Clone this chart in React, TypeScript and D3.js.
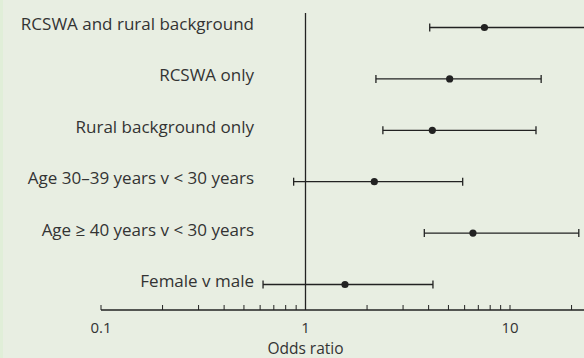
import React from "react";
import * as d3 from "d3";

const categories = [
  "RCSWA and rural background",
  "RCSWA only",
  "Rural background only",
  "Age 30\u201339 years v < 30 years",
  "Age \u2265 40 years v < 30 years",
  "Female v male",
];
const oddsRatios = [7.5, 5.07, 4.17, 2.17, 6.59, 1.56];
const lowerCI = [4.05, 2.21, 2.39, 0.875, 3.81, 0.62];
const upperCI = [40, 14.2, 13.4, 5.87, 21.7, 4.2];
const tickLabels = [0.1, 1, 10];

const W = 584;
const H = 358;

export default function App() {
  const x = d3.scaleLog().domain([0.1, 10]).range([101, 510]);
  const y = d3
    .scalePoint<string>()
    .domain(categories)
    .range([27.5, 284.5]);
  const axisY = 310;
  const minor: number[] = [];
  for (const dec of [0.1, 1, 10]) {
    for (let k = 1; k <= 9; k++) {
      const v = dec * k;
      if (x(v) <= W + 1) minor.push(v);
    }
  }
  const font = "'Open Sans', 'Noto Sans', sans-serif";
  const ink = "#222";
  return (
    <svg
      width={W}
      height={H}
      style={{ position: "absolute", left: 0, top: 0, display: "block" }}
    >
      <rect x={0} y={0} width={W} height={H} fill="#e8eee2" />
      <rect x={0} y={0} width={3} height={H} fill="#e0eed8" />
      <defs>
        <clipPath id="clip">
          <rect x={0} y={0} width={W} height={H} />
        </clipPath>
      </defs>
      {/* reference line at 1 */}
      <line x1={x(1)} x2={x(1)} y1={13} y2={axisY} stroke={ink} strokeWidth={1.3} />
      {/* axis */}
      <line x1={x(0.1)} x2={W} y1={axisY} y2={axisY} stroke={ink} strokeWidth={1.3} />
      {minor.map((v, i) => (
        <line
          key={i}
          x1={x(v)}
          x2={x(v)}
          y1={axisY}
          y2={axisY - 5}
          stroke={ink}
          strokeWidth={1}
        />
      ))}
      {tickLabels.map((t) => (
        <text
          key={t}
          x={x(t)}
          y={332.5}
          textAnchor="middle"
          fontFamily={font}
          fontSize={15}
          fill="#333"
        >
          {String(t)}
        </text>
      ))}
      <text
        x={x(1)}
        y={354}
        textAnchor="middle"
        fontFamily={font}
        fontSize={15.5}
        fill="#333"
      >
        Odds ratio
      </text>
      {categories.map((c, i) => {
        const yy = y(c)!;
        return (
          <g key={c} clipPath="url(#clip)">
            <text
              x={254}
              y={yy + 2.5}
              textAnchor="end"
              fontFamily={font}
              fontSize={17}
              fill="#333"
            >
              {c}
            </text>
            <line
              x1={x(lowerCI[i])}
              x2={x(upperCI[i])}
              y1={yy}
              y2={yy}
              stroke={ink}
              strokeWidth={1.3}
            />
            <line
              x1={x(lowerCI[i])}
              x2={x(lowerCI[i])}
              y1={yy - 4}
              y2={yy + 4}
              stroke={ink}
              strokeWidth={1.3}
            />
            <line
              x1={x(upperCI[i])}
              x2={x(upperCI[i])}
              y1={yy - 4}
              y2={yy + 4}
              stroke={ink}
              strokeWidth={1.3}
            />
            <circle cx={x(oddsRatios[i])} cy={yy} r={3.6} fill={ink} />
          </g>
        );
      })}
    </svg>
  );
}
